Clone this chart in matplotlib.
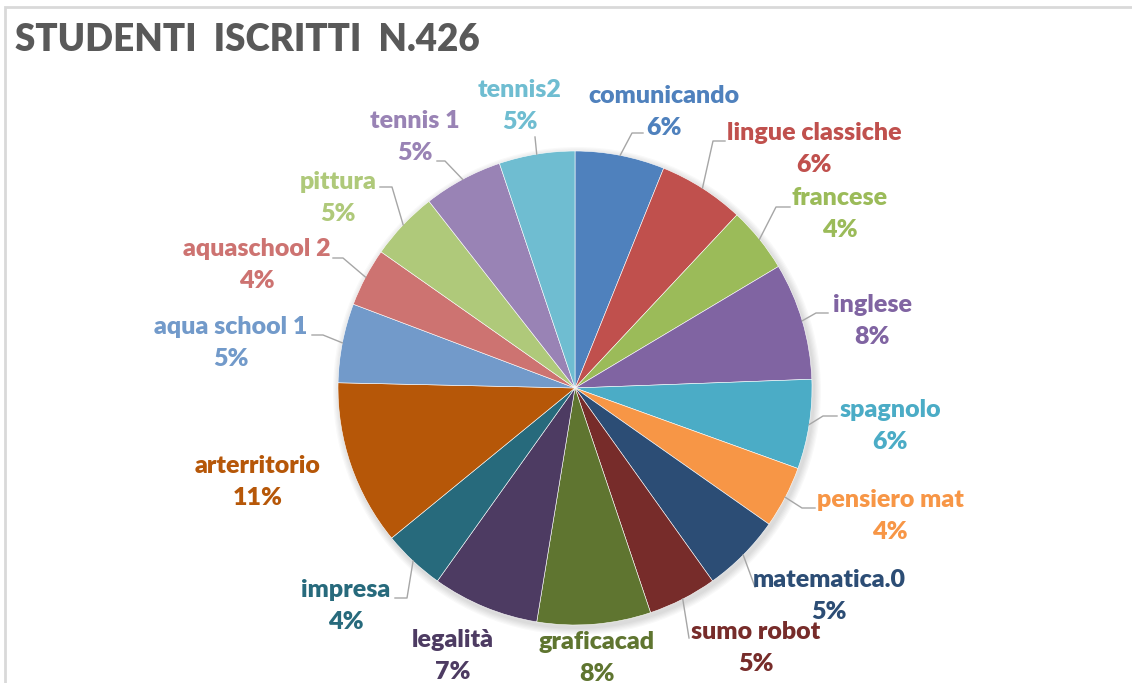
import numpy as np
import matplotlib
matplotlib.use('Agg')
import matplotlib.pyplot as plt
import matplotlib.patches as patches

# ----------
# Data (students per course, total 426)
courses = ['comunicando', 'lingue classiche', 'francese', 'inglese', 'spagnolo',
           'pensiero mat', 'matematica.0', 'sumo robot', 'graficacad', 'legalità',
           'impresa', 'arterritorio', 'aqua school 1', 'aquaschool 2', 'pittura',
           'tennis 1', 'tennis2']
students = [26, 25, 19, 34, 26, 18, 23, 20, 33, 31, 18, 48, 23, 17, 20, 23, 22]
title = 'STUDENTI  ISCRITTI  N.426'

colors = ['#4F81BD', '#C0504D', '#9BBB59', '#8064A2', '#4BACC6', '#F79646',
          '#2C4D75', '#772C2A', '#5F7530', '#4D3B62', '#276A7C', '#B65708',
          '#729ACA', '#CD7371', '#AFC97A', '#9983B5', '#6FBDD1']

# ----------
# Layout in pixels (y measured from top): label centre, leader anchor + knee x
W, H = 1132, 683
cx, cy, R = 575, 388, 237
layout = [
    ((664, 96), (643, 133, 632)),
    ((814, 133), (725, 141, 713)),
    ((840, 198), (790, 207, 776)),
    ((872, 305), (828, 313, 816)),
    ((890, 410), (837, 416, 823)),
    ((890, 500), (815, 508, 802)),
    ((829, 580), (755, 587, 755)),
    ((756, 632), (689, 638, 689)),
    ((597, 642), None),
    ((453, 640), None),
    ((346, 590), (395, 598, 407)),
    ((258, 466), None),
    ((231, 327), (312, 335, 323)),
    ((257, 249), (333, 258, 343)),
    ((338, 182), (380, 187, 392)),
    ((415, 121), (437, 161, 445)),
    ((520, 90), (535, 137, 535)),
]

def Y(y):
    return H - y

plt.rcParams['font.family'] = ['Lato', 'DejaVu Sans']

fig = plt.figure(figsize=(W / 100, H / 100), dpi=100, facecolor='white')
ax = fig.add_axes([0, 0, 1, 1])

# soft shadow under the pie
for k in range(6):
    ax.add_patch(patches.Circle((cx + 2, Y(cy) - 3), R + 1 + k * 1.2,
                                facecolor='black', alpha=0.025, lw=0, zorder=1))

wedges, _ = ax.pie(students, colors=colors, startangle=90, counterclock=False,
                   center=(cx, Y(cy)), radius=R,
                   wedgeprops=dict(edgecolor='white', linewidth=0.4, zorder=2))

ax.set_xlim(0, W)
ax.set_ylim(0, H)
ax.set_aspect('equal')
ax.axis('off')

total = float(sum(students))
cum = np.cumsum([0] + students)
for i, name in enumerate(courses):
    (tx, ty), lead = layout[i]
    pct = '%d%%' % round(students[i] / total * 100)
    ax.text(tx, Y(ty), name, color=colors[i], fontsize=18, fontweight='heavy',
            ha='center', va='center', zorder=5)
    ax.text(tx, Y(ty + 32), pct, color=colors[i], fontsize=18, fontweight='heavy',
            ha='center', va='center', zorder=5)
    if lead is not None:
        mid = np.deg2rad((cum[i] + students[i] / 2.0) / total * 360.0)
        ex, ey = cx + R * np.sin(mid), cy - R * np.cos(mid)
        lx, ly, kx = lead
        ax.plot([lx, kx, ex], [Y(ly), Y(ly), Y(ey)], color='#A6A6A6', lw=1.0,
                zorder=3)

# Title
fig.text(15 / W, 1 - 40 / H, title, color='#595959', fontsize=26.5,
         fontweight='heavy', ha='left', va='center')

# Chart frame
fig.add_artist(patches.Rectangle((5 / W, -0.1), 1.2, 1.1 - 7 / H,
                                 transform=fig.transFigure, fill=False,
                                 edgecolor='#D9D9D9', lw=2))

plt.savefig('out.png', dpi=100, facecolor='white')
